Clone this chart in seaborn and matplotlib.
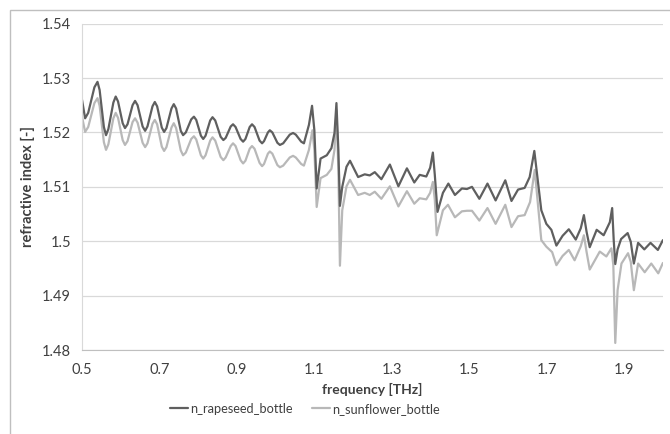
import matplotlib
matplotlib.use("Agg")
import matplotlib.pyplot as plt
import pandas as pd
import seaborn as sns
from matplotlib.patches import Rectangle
from matplotlib.ticker import FuncFormatter, MultipleLocator

# values
freq_rapeseed = [
    0.500, 0.508, 0.516, 0.532, 0.540, 0.5455, 0.5565, 0.562, 0.568, 0.581,
    0.587, 0.593, 0.605, 0.611, 0.6175, 0.6305, 0.637, 0.6435, 0.6565, 0.663,
    0.669, 0.682, 0.688, 0.694, 0.706, 0.712, 0.718, 0.731, 0.737, 0.743,
    0.755, 0.761, 0.768, 0.782, 0.789, 0.795, 0.807, 0.813, 0.819, 0.831,
    0.837, 0.844, 0.858, 0.865, 0.871, 0.884, 0.890, 0.8965, 0.9095, 0.916,
    0.922, 0.933, 0.939, 0.9455, 0.9585, 0.965, 0.970, 0.980, 0.985, 0.9915,
    1.0045, 1.011, 1.0195, 1.0365, 1.045, 1.052, 1.066, 1.073,
    1.086, 1.094, 1.100, 1.106, 1.116, 1.132,
    1.144, 1.152, 1.157, 1.162, 1.166, 1.172, 1.183, 1.192, 1.213, 1.230,
    1.243, 1.256, 1.273, 1.295, 1.317, 1.339, 1.358, 1.372, 1.389, 1.399,
    1.406, 1.411, 1.418, 1.432, 1.446, 1.463, 1.481, 1.494, 1.507, 1.526,
    1.547, 1.568, 1.593, 1.609, 1.626, 1.643, 1.656, 1.668, 1.678, 1.686,
    1.699, 1.712, 1.725, 1.741, 1.757, 1.775, 1.788, 1.796, 1.803, 1.811,
    1.829, 1.847, 1.863, 1.869, 1.873, 1.877, 1.883, 1.892, 1.909, 1.917,
    1.925, 1.936, 1.952, 1.968, 1.987, 2.000,
]
n_rapeseed = [
    1.5260, 1.5226, 1.5236, 1.5283, 1.5293, 1.5278, 1.5210, 1.5195, 1.5206, 1.5255,
    1.5266, 1.5257, 1.5217, 1.5208, 1.5215, 1.5250, 1.5258, 1.5250, 1.5211, 1.5203,
    1.5211, 1.5248, 1.5256, 1.5248, 1.5209, 1.5201, 1.5208, 1.5244, 1.5252, 1.5244,
    1.5203, 1.5195, 1.5200, 1.5224, 1.5229, 1.5223, 1.5194, 1.5188, 1.5194, 1.5222,
    1.5228, 1.5222, 1.5192, 1.5186, 1.5190, 1.5211, 1.5215, 1.5210, 1.5188, 1.5183,
    1.5188, 1.5210, 1.5215, 1.5210, 1.5185, 1.5180, 1.5184, 1.5200, 1.5204, 1.5200,
    1.5181, 1.5177, 1.5180, 1.5196, 1.5199, 1.5196, 1.5183, 1.5180,
    1.5214, 1.5249, 1.5204, 1.5097, 1.5152, 1.5158,
    1.5171, 1.5199, 1.5254, 1.5168, 1.5065, 1.5100, 1.5137, 1.5148, 1.5118, 1.5123,
    1.5121, 1.5127, 1.5114, 1.5141, 1.5101, 1.5134, 1.5108, 1.5122, 1.5119, 1.5135,
    1.5163, 1.5122, 1.5054, 1.5089, 1.5106, 1.5085, 1.5097, 1.5096, 1.5100, 1.5078,
    1.5106, 1.5075, 1.5112, 1.5074, 1.5095, 1.5098, 1.5118, 1.5166, 1.5106, 1.5057,
    1.5032, 1.5021, 1.4992, 1.5010, 1.5022, 1.5003, 1.5024, 1.5048, 1.5017, 1.4989,
    1.5021, 1.5011, 1.5035, 1.5061, 1.5002, 1.4958, 1.4985, 1.5004, 1.5015, 1.4999,
    1.4959, 1.4997, 1.4985, 1.4997, 1.4984, 1.5002,
]

freq_sunflower = [
    0.500, 0.508, 0.516, 0.532, 0.540, 0.5455, 0.5565, 0.562, 0.568, 0.581,
    0.587, 0.593, 0.605, 0.611, 0.6175, 0.6305, 0.637, 0.6435, 0.6565, 0.663,
    0.669, 0.682, 0.688, 0.694, 0.706, 0.712, 0.718, 0.731, 0.737, 0.743,
    0.755, 0.761, 0.768, 0.782, 0.789, 0.795, 0.807, 0.813, 0.819, 0.831,
    0.837, 0.844, 0.858, 0.865, 0.871, 0.884, 0.890, 0.8965, 0.9095, 0.916,
    0.922, 0.933, 0.939, 0.9455, 0.9585, 0.965, 0.970, 0.980, 0.985, 0.9915,
    1.0045, 1.011, 1.0195, 1.0365, 1.045, 1.052, 1.066, 1.073,
    1.086, 1.095, 1.100, 1.106, 1.116, 1.132,
    1.144, 1.152, 1.157, 1.162, 1.166, 1.172, 1.183, 1.192, 1.213, 1.230,
    1.243, 1.256, 1.273, 1.295, 1.317, 1.339, 1.358, 1.372, 1.389, 1.399,
    1.406, 1.411, 1.416, 1.432, 1.445, 1.463, 1.481, 1.494, 1.507, 1.526,
    1.547, 1.568, 1.593, 1.609, 1.626, 1.643, 1.657, 1.669, 1.678, 1.686,
    1.699, 1.714, 1.725, 1.741, 1.757, 1.772, 1.788, 1.796, 1.803, 1.811,
    1.837, 1.854, 1.867, 1.872, 1.877, 1.883, 1.893, 1.910, 1.917, 1.925,
    1.936, 1.953, 1.970, 1.988, 2.000,
]
n_sunflower = [
    1.5229, 1.5201, 1.5210, 1.5254, 1.5263, 1.5249, 1.5182, 1.5168, 1.5178, 1.5226,
    1.5236, 1.5227, 1.5186, 1.5177, 1.5184, 1.5219, 1.5226, 1.5218, 1.5181, 1.5173,
    1.5180, 1.5216, 1.5223, 1.5215, 1.5174, 1.5166, 1.5173, 1.5209, 1.5217, 1.5208,
    1.5167, 1.5158, 1.5163, 1.5188, 1.5193, 1.5187, 1.5158, 1.5152, 1.5158, 1.5185,
    1.5191, 1.5185, 1.5155, 1.5149, 1.5154, 1.5175, 1.5180, 1.5175, 1.5149, 1.5143,
    1.5148, 1.5170, 1.5175, 1.5170, 1.5144, 1.5138, 1.5142, 1.5161, 1.5165, 1.5161,
    1.5140, 1.5136, 1.5139, 1.5154, 1.5157, 1.5154, 1.5142, 1.5139,
    1.5168, 1.5204, 1.5168, 1.5063, 1.5116, 1.5122,
    1.5133, 1.5168, 1.5241, 1.5131, 1.4955, 1.5057, 1.5101, 1.5113, 1.5085, 1.5089,
    1.5085, 1.5091, 1.5078, 1.5101, 1.5064, 1.5092, 1.5069, 1.5079, 1.5077, 1.5089,
    1.5109, 1.5076, 1.5011, 1.5057, 1.5067, 1.5044, 1.5055, 1.5056, 1.5056, 1.5038,
    1.5061, 1.5032, 1.5067, 1.5026, 1.5046, 1.5048, 1.5072, 1.5131, 1.5063, 1.5002,
    1.4990, 1.4980, 1.4956, 1.4973, 1.4984, 1.4965, 1.4991, 1.5011, 1.4980, 1.4948,
    1.4981, 1.4972, 1.4987, 1.4956, 1.4813, 1.4910, 1.4959, 1.4978, 1.4962, 1.4910,
    1.4959, 1.4943, 1.4959, 1.4941, 1.4960,
]

series_names = ["n_rapeseed_bottle", "n_sunflower_bottle"]
series_colors = ["#5f5f5f", "#b8b8b8"]
x_ticks = [0.5, 0.7, 0.9, 1.1, 1.3, 1.5, 1.7, 1.9]

df = pd.concat([
    pd.DataFrame({"freq": freq_rapeseed, "n": n_rapeseed, "series": series_names[0]}),
    pd.DataFrame({"freq": freq_sunflower, "n": n_sunflower, "series": series_names[1]}),
])

sns.set_style("white")
plt.rcParams["font.family"] = ["Lato", "DejaVu Sans"]

fig = plt.figure(figsize=(6.7, 4.34), dpi=100)
ax = fig.add_axes([0.1224, 0.1935, 0.867, 0.752])

# sunflower drawn first so the darker line sits on top
for name, color in reversed(list(zip(series_names, series_colors))):
    sns.lineplot(
        data=df[df["series"] == name], x="freq", y="n", color=color,
        sort=False, estimator=None, linewidth=1.6, ax=ax, label=name,
        solid_joinstyle="round",
    )

ax.set_xlim(0.5, 2.0)
ax.set_ylim(1.48, 1.54)
ax.set_xticks(x_ticks)
ax.yaxis.set_major_locator(MultipleLocator(0.01))
ax.yaxis.set_major_formatter(FuncFormatter(lambda v, p: f"{v:g}"))
ax.xaxis.set_major_formatter(FuncFormatter(lambda v, p: f"{v:g}"))

ax.grid(axis="y", color="#d9d9d9", linewidth=0.9)
ax.grid(axis="x", visible=False)
for side in ["top", "right"]:
    ax.spines[side].set_visible(False)
ax.spines["left"].set_color("#d9d9d9")
ax.spines["bottom"].set_color("#bfbfbf")
ax.tick_params(axis="both", labelsize=10.5, colors="#404040", length=4, width=0.8,
               direction="out")
ax.tick_params(axis="x", color="#bfbfbf", pad=5)
ax.tick_params(axis="y", color="#d9d9d9", pad=4)

ax.set_xlabel("frequency [THz]", fontsize=10, fontweight="bold", color="#404040",
              labelpad=5)
ax.set_ylabel("refractive index [-]", fontsize=10.5, fontweight="bold", color="#404040",
              labelpad=5)

handles, labels = ax.get_legend_handles_labels()
order = [labels.index(n) for n in series_names]
ax.legend(
    [handles[i] for i in order], [labels[i] for i in order],
    loc="center", bbox_to_anchor=(0.455, 0.058), bbox_transform=fig.transFigure,
    ncol=2, frameon=False, fontsize=9.2, handlelength=1.4, handletextpad=0.2,
    columnspacing=1.5, labelcolor="#404040",
)

fig.patches.append(Rectangle((10 / 670, -0.01), 1.0, 1 - 10 / 434 + 0.01,
                             transform=fig.transFigure, fill=False,
                             edgecolor="#bfbfbf", linewidth=1.0))

fig.savefig("out.png", dpi=100)
